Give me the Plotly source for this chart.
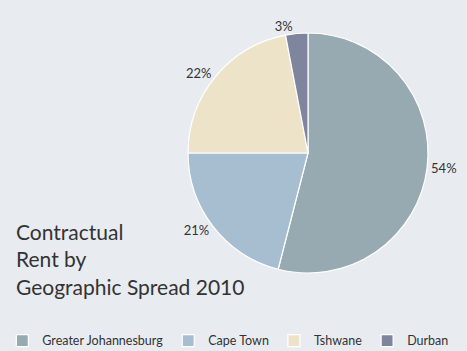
import plotly.graph_objects as go

labels = ["Greater Johannesburg", "Cape Town", "Tshwane", "Durban"]
values = [54, 21, 22, 3]
colors = ["#97AAB2", "#A7BDD0", "#EDE3C8", "#80859E"]

W, H = 467, 351
cx, cy, r = 308, 153, 120

fig = go.Figure(go.Pie(
    labels=labels, values=values, sort=False, direction="clockwise", rotation=0,
    marker=dict(colors=colors, line=dict(color="white", width=1.2)),
    textinfo="percent", textposition="outside",
    texttemplate="%{percent:.0%}",
    textfont=dict(family="Lato, sans-serif", size=13, color="#333333"),
    domain=dict(x=[(cx - r) / W, (cx + r) / W], y=[(H - cy - r) / H, (H - cy + r) / H]),
    showlegend=True,
))

fig.update_layout(
    width=W, height=H,
    margin=dict(l=0, r=0, t=0, b=0, autoexpand=False),
    paper_bgcolor="#E8EBF0", plot_bgcolor="#E8EBF0",
    font=dict(family="Lato, sans-serif", color="#333333"),
    legend=dict(orientation="h", x=0.005, y=-0.014, xanchor="left", yanchor="bottom",
                font=dict(size=12.5, color="#333333"), bgcolor="rgba(0,0,0,0)",
                traceorder="normal"),
    annotations=[dict(
        text="Contractual<br>Rent by<br>Geographic Spread 2010",
        x=14 / W, y=(H - 217) / H, xref="paper", yref="paper",
        xanchor="left", yanchor="top", align="left", showarrow=False,
        font=dict(size=21, color="#333333", family="Lato, sans-serif"),
    )],
)

fig.write_html("out.html")
